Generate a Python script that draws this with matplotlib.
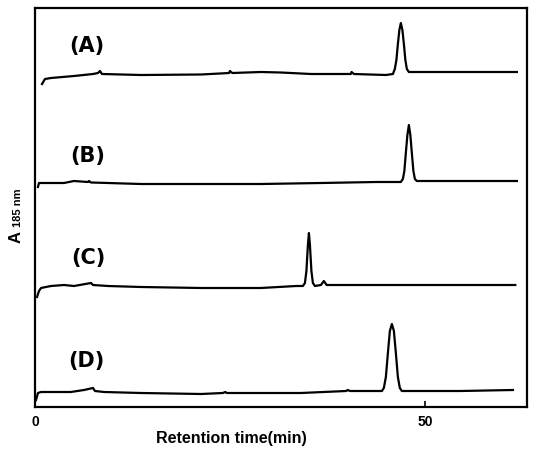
import matplotlib
matplotlib.use("Agg")
import matplotlib.pyplot as plt
import numpy as np

plt.rcParams['font.family'] = ['Liberation Sans', 'DejaVu Sans']

# ---- data (time in min, signal in arbitrary units) ----
labels = ["(A)", "(B)", "(C)", "(D)"]

t_A = [0.90, 1.28, 2.05, 5.0, 7.44, 8.08, 8.33, 8.59, 13.6, 21.3, 24.9, 25.0, 25.3,
       28.97, 31.5, 35.4, 40.5, 40.6, 40.9, 45.0,
       45.9, 46.15, 46.35, 46.54, 46.73, 46.92, 47.12, 47.31, 47.5, 47.69, 47.95,
       61.8]
s_A = [-12, -7, -6, -4, -2, -1, 1, -2, -3, -2.5, -1, 1, -1,
       0, -0.5, -2, -2, 0, -2, -3,
       -2, 3, 12, 28, 42, 49, 42, 28, 12, 3, 0,
       0]

t_B = [0.38, 0.51, 1.41, 3.72, 5.0, 6.79, 6.92, 7.18, 9.36, 13.6, 21.3, 28.97,
       36.7, 43.7,
       46.92, 47.18, 47.37, 47.56, 47.76, 47.95, 48.14, 48.33, 48.53, 48.72, 48.97,
       61.8]
s_B = [-6, -2, -2, -2, 0, -1, 0, -1.5, -2, -3, -3, -3,
       -2, -1,
       -1, 2, 10, 28, 46, 56, 46, 28, 10, 2, 0,
       0]

t_C = [0.26, 0.51, 0.77, 2.05, 3.72, 5.0, 7.18, 7.44, 9.36, 13.6, 21.3, 28.97,
       33.5,
       34.36, 34.62, 34.81, 35.0, 35.13, 35.26, 35.45, 35.64, 35.9,
       36.67, 37.05, 37.4, 39.2, 61.6]
s_C = [-12, -6, -3, -1, 0, -1, 2, 0, -1, -2, -3, -3,
       -1,
       -1, 2, 14, 40, 52, 40, 14, 2, -1,
       0, 4, 0, 0, 0]

t_D = [0.13, 0.38, 0.77, 4.6, 6.28, 7.44, 7.69, 8.85, 13.6, 21.3, 24.1, 24.4,
       24.6, 34.1, 39.9, 40.1, 40.4,
       44.49, 44.74, 45.0, 45.26, 45.51, 45.77, 46.03, 46.28, 46.54, 46.79, 47.05,
       54.6, 61.3]
s_D = [-9, -2, -1, -1, 1, 3, 0, -1, -2, -3, -2, -1,
       -2, -2, 0, 1, 0,
       0, 3, 14, 38, 60, 67, 60, 38, 14, 3, 0,
       0, 1]

times = [t_A, t_B, t_C, t_D]
signals = [s_A, s_B, s_C, s_D]
offsets = [335, 226, 122, 16]          # vertical stacking of the traces
label_pos = [(6.6, 361), (6.8, 251), (6.8, 149), (6.6, 46)]

xticks = [0, 50]
xtick_labels = ["0", "50"]

# ---- figure ----
W, H = 535, 449
fig = plt.figure(figsize=(W / 100, H / 100), dpi=100)
ax = fig.add_axes([35 / W, (H - 407) / H, 492 / W, 399 / H])

for t, s, off in zip(times, signals, offsets):
    ax.plot(t, np.asarray(s) + off, color="black", lw=1.6,
            solid_joinstyle="round")

for lab, (x, y) in zip(labels, label_pos):
    ax.text(x, y, lab, fontsize=15, fontweight="bold", ha="center",
            va="center", family="DejaVu Sans")

ax.set_xlim(0, 63.1)
ax.set_ylim(0, 399)
ax.set_yticks([])
ax.set_xticks(xticks)
ax.set_xticklabels(xtick_labels, fontsize=10, fontweight="bold")
ax.tick_params(axis="x", direction="in", length=4, width=1.2, pad=6)
for sp in ax.spines.values():
    sp.set_linewidth(1.6)

fig.text(231 / W, 1 - 439 / H, "Retention time(min)", fontsize=11.5,
         fontweight="bold", ha="center", va="center")
fig.text(16 / W, 1 - 243 / H, "A", fontsize=12, fontweight="bold",
         rotation=90, ha="center", va="bottom")
fig.text(18 / W, 1 - 227 / H, "185 nm", fontsize=8, fontweight="bold",
         rotation=90, ha="center", va="bottom")

fig.savefig("out.png", dpi=100)
